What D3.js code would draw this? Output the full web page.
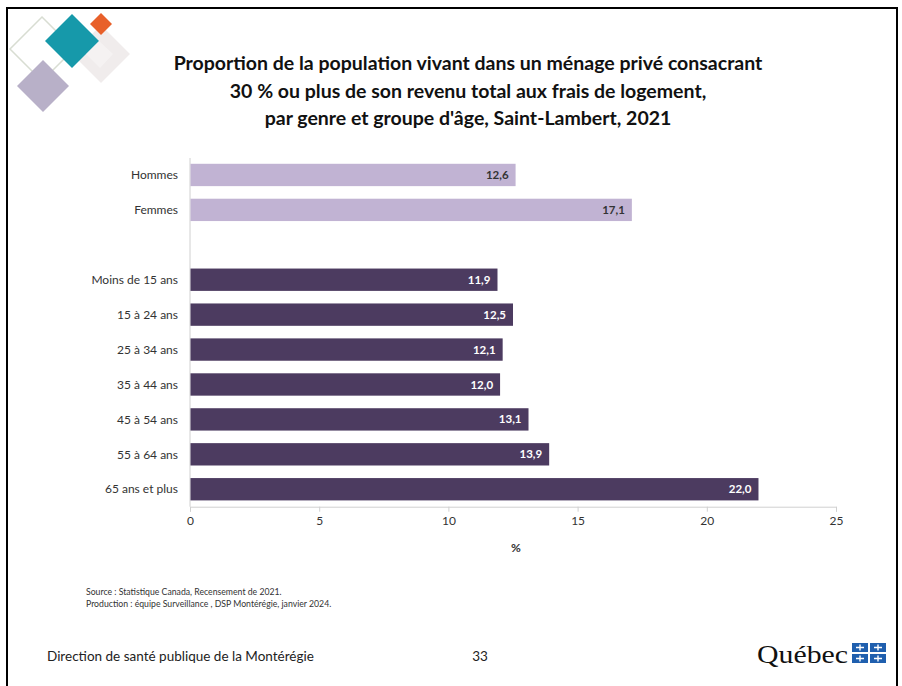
<!DOCTYPE html>
<html><head><meta charset="utf-8">
<script src="https://cdn.jsdelivr.net/npm/d3@7"></script>
<style>body{margin:0;background:#fff}svg{display:block;font-family:Lato,"Open Sans",sans-serif}</style>
</head><body>
<svg id="c" width="902" height="686"></svg>
<script>
const categories = ["Hommes","Femmes","","Moins de 15 ans","15 à 24 ans","25 à 34 ans","35 à 44 ans","45 à 54 ans","55 à 64 ans","65 ans et plus"];
const values = [12.6,17.1,null,11.9,12.5,12.1,12.0,13.1,13.9,22.0];
const groups = ["genre","genre","","age","age","age","age","age","age","age"];
const ticks = [0,5,10,15,20,25];
const titleLines = ["Proportion de la population vivant dans un ménage privé consacrant","30 % ou plus de son revenu total aux frais de logement,","par genre et groupe d'âge, Saint-Lambert, 2021"];
const sourceLines = ["Source : Statistique Canada, Recensement de 2021.","Production : équipe Surveillance , DSP Montérégie, janvier 2024."];

const svg = d3.select("#c");
// frame
svg.append("rect").attr("x",7).attr("y",8).attr("width",890).attr("height",690).attr("fill","none").attr("stroke","#000").attr("stroke-width",2);

// decorative diamonds
const dia = (cx,cy,h,fill,stroke,op)=>svg.append("path")
  .attr("d",`M${cx},${cy-h}L${cx+h},${cy}L${cx},${cy+h}L${cx-h},${cy}Z`)
  .attr("fill",fill).attr("stroke",stroke||"none").attr("stroke-width",1.5).attr("opacity",op||1);
dia(42,49,32,"none","#d8ddd2");
dia(101,54,29,"#eeeaea",null,0.9);
dia(43,86,26,"#b8b0c8");
dia(101,24,11,"#e8602a");
dia(72,41,27,"#1699aa");
svg.append("path").attr("d","M99,41L86,54L100,68L113,54Z").attr("fill","#ffffff").attr("opacity",0.35);

// title
svg.append("text").attr("text-anchor","middle").attr("font-weight","bold").attr("font-size",19.5).attr("fill","#111")
  .selectAll("tspan").data(titleLines).join("tspan").attr("x",468).attr("y",(d,i)=>70+i*27.5).text(d=>d);

const x = d3.scaleLinear().domain([0,25]).range([190,836]);
const y = d3.scaleBand().domain(d3.range(categories.length)).range([157.5,506.7]).paddingInner(0.36).paddingOuter(0.18);

// axis
const ax = svg.append("g").attr("transform","translate(0,506.7)").call(d3.axisBottom(x).tickValues(ticks).tickSize(5).tickFormat(d3.format("d")));
ax.attr("font-family",null);
ax.select(".domain").attr("stroke","#d0d0d0");
ax.selectAll(".tick line").attr("stroke","#d0d0d0");
ax.selectAll(".tick text").attr("font-size",12).attr("fill","#333").attr("dy","0.9em");
svg.append("line").attr("x1",190).attr("x2",190).attr("y1",158).attr("y2",506.7).attr("stroke","#d0d0d0");

const color = g=> g==="genre" ? "#c1b3d3" : "#4c3b60";
const data = categories.map((c,i)=>({c,v:values[i],g:groups[i],i})).filter(d=>d.v!==null);
svg.append("g").selectAll("rect").data(data).join("rect")
  .attr("x",x(0)+0.5).attr("y",d=>y(d.i)).attr("height",y.bandwidth()).attr("width",d=>x(d.v)-x(0)-0.5).attr("fill",d=>color(d.g));
svg.append("g").selectAll("text").data(data).join("text")
  .attr("x",d=>x(d.v)-7).attr("y",d=>y(d.i)+y.bandwidth()/2).attr("dy","0.35em").attr("text-anchor","end")
  .attr("font-size",11.5).attr("font-weight","bold").attr("fill",d=>d.g==="genre"?"#333":"#fff").text(d=>d3.format(".1f")(d.v).replace(".",","));
svg.append("g").selectAll("text").data(data).join("text")
  .attr("x",178).attr("y",d=>y(d.i)+y.bandwidth()/2).attr("dy","0.35em").attr("text-anchor","end")
  .attr("font-size",12).attr("fill","#333").text(d=>d.c);

svg.append("text").attr("x",516).attr("y",552).attr("text-anchor","middle").attr("font-size",12).attr("font-weight","bold").attr("fill","#333").text("%");

// source
svg.append("g").selectAll("text").data(sourceLines).join("text").attr("x",86).attr("y",(d,i)=>595+i*12).attr("font-size",8.7).attr("fill","#333").text(d=>d);

// footer
svg.append("text").attr("x",47).attr("y",661).attr("font-size",13.5).attr("fill","#222").text("Direction de santé publique de la Montérégie");
svg.append("text").attr("x",480).attr("y",661).attr("text-anchor","middle").attr("font-size",13.5).attr("fill","#222").text("33");
svg.append("text").attr("x",757).attr("y",663).style("font-family","'Liberation Serif','DejaVu Serif',serif").attr("font-size",25)
  .attr("textLength",91).attr("lengthAdjust","spacingAndGlyphs").attr("fill","#111").text("Québec");
const fl = svg.append("g").attr("transform","translate(852,643)");
[[0,0],[18,0],[0,11],[18,11]].forEach(([dx,dy])=>{
  fl.append("rect").attr("x",dx).attr("y",dy).attr("width",16).attr("height",9).attr("fill","#1f5fae");
  fl.append("path").attr("d",`M${dx+8},${dy+1.5}v6M${dx+4},${dy+4.5}h8`).attr("stroke","#fff").attr("stroke-width",1.4);
});
</script>
</body></html>
